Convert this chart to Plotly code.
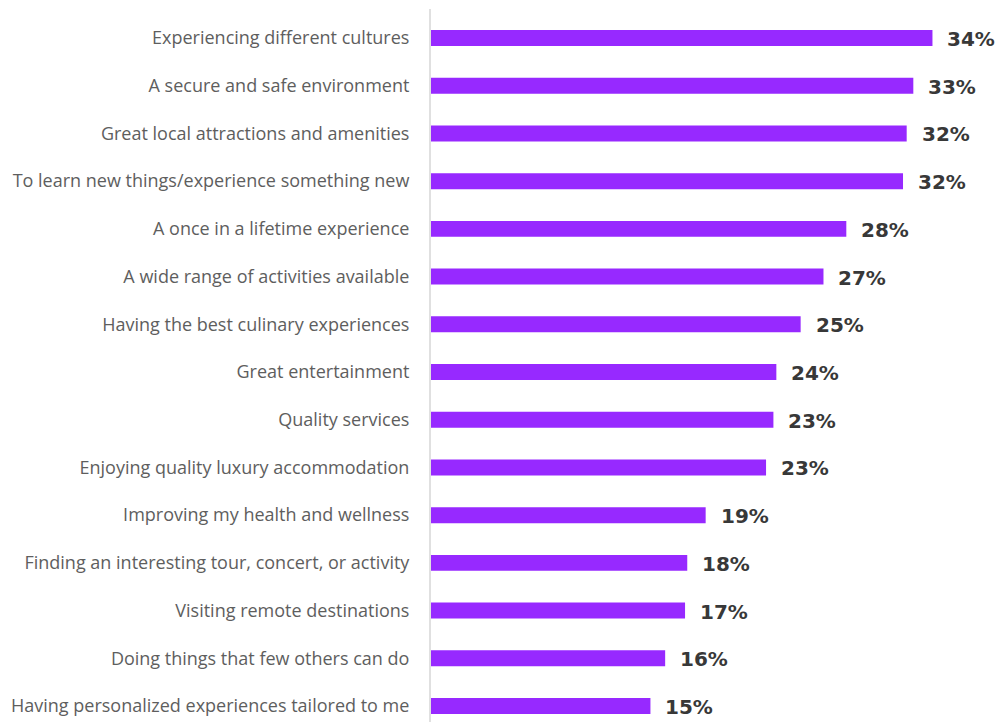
import plotly.graph_objects as go

categories = [
    "Experiencing different cultures",
    "A secure and safe environment",
    "Great local attractions and amenities",
    "To learn new things/experience something new",
    "A once in a lifetime experience",
    "A wide range of activities available",
    "Having the best culinary experiences",
    "Great entertainment",
    "Quality services",
    "Enjoying quality luxury accommodation",
    "Improving my health and wellness",
    "Finding an interesting tour, concert, or activity",
    "Visiting remote destinations",
    "Doing things that few others can do",
    "Having personalized experiences tailored to me",
]
# bar lengths (percent)
values = [34.05, 32.75, 32.3, 32.05, 28.2, 26.65, 25.1, 23.45, 23.25, 22.75,
          18.65, 17.4, 17.25, 15.9, 14.9]
labels = ["34%", "33%", "32%", "32%", "28%", "27%", "25%", "24%", "23%", "23%",
          "19%", "18%", "17%", "16%", "15%"]

fig = go.Figure()
fig.add_trace(go.Bar(
    y=categories, x=values, orientation="h",
    marker=dict(color="#9729FF", line=dict(width=0)),
    hoverinfo="skip",
))

for c, v, t in zip(categories, values, labels):
    fig.add_annotation(x=v, y=c, text=t, showarrow=False, xanchor="left",
                       xshift=13, yshift=-1,
                       font=dict(family="DejaVu Sans", size=20, color="#383838", weight="bold"))

fig.update_layout(
    width=998, height=722,
    margin=dict(l=431, r=0, t=9, b=0),
    plot_bgcolor="white", paper_bgcolor="white",
    bargap=0.665,
    showlegend=False,
    xaxis=dict(range=[0, 38.5], visible=False, fixedrange=True),
    yaxis=dict(
        type="category",
        categoryorder="array", categoryarray=categories,
        range=[14.335, -0.608],
        showline=True, linecolor="#e0e0e0", linewidth=2,
        showgrid=False, zeroline=False,
        ticks="", ticklabelstandoff=16,
        tickfont=dict(family="Open Sans", size=18, color="#5e5e5e"),
    ),
)

fig.write_html("out.html")
